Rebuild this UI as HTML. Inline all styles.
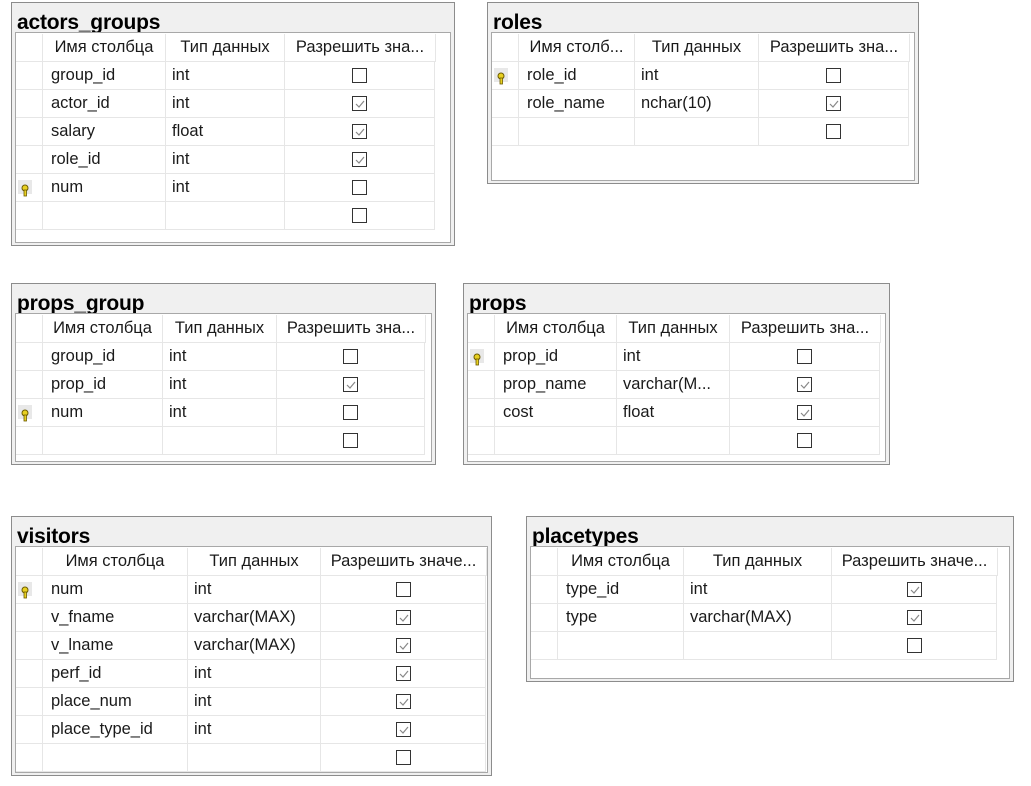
<!DOCTYPE html>
<html><head><meta charset="utf-8">
<style>
body{margin:0;width:1031px;height:786px;background:#fff;position:relative;overflow:hidden;font-family:"Liberation Sans","DejaVu Sans",sans-serif;}
.box{position:absolute;border:1px solid #8c8c8c;background:#f0f0f0;box-sizing:border-box;}
.title{position:absolute;left:5px;top:9px;font-weight:bold;font-size:21px;color:#000;line-height:22px;letter-spacing:-0.2px;}
.inner{position:absolute;background:#fff;border:1px solid #a8a8a8;box-sizing:border-box;overflow:hidden;}
.c{position:absolute;box-sizing:border-box;font-size:16.5px;color:#1a1a1a;line-height:27px;white-space:nowrap;overflow:hidden;border-right:1px solid #e6e6e6;border-bottom:1px solid #e6e6e6;}
.hd{text-align:center;}
.cb{position:absolute;width:15px;height:15px;border:1px solid #333;box-sizing:border-box;background:#fff;}
.key{position:absolute;width:14px;height:14px;background:#e8e8e8;}
</style></head><body>
<script>
function T(o){
  var b=document.createElement('div');b.className='box';
  b.style.left=o.x+'px';b.style.top=o.y+'px';b.style.width=(o.x2-o.x)+'px';b.style.height=(o.y2-o.y)+'px';
  document.body.appendChild(b);
  var t=document.createElement('div');t.className='title';t.textContent=o.name;b.appendChild(t);
  var ix=o.cols[0]-o.x-1, iy=o.hy-o.y-2;
  var inn=document.createElement('div');inn.className='inner';
  inn.style.left=ix+'px';inn.style.top=iy+'px';inn.style.width=(o.x2-o.x-ix-5)+'px';inn.style.height=(o.y2-o.y-iy-4)+'px';
  b.appendChild(inn);
  function cell(x1,x2,y,txt,cls){
    var c=document.createElement('div');c.className='c '+(cls||'');
    c.style.left=(x1-o.cols[0])+'px';c.style.top=(y-o.hy+1)+'px';c.style.width=(x2-x1)+'px';c.style.height='28px';
    if(txt!=null){c.textContent=txt;}
    inn.appendChild(c);return c;
  }
  var C=o.cols;
  cell(C[0],C[1],o.hy,'');
  cell(C[1],C[2],o.hy,o.h[0],'hd');
  cell(C[2],C[3],o.hy,o.h[1],'hd');
  cell(C[3],C[4]+1,o.hy,o.h[2],'hd');
  o.rows.forEach(function(r,i){
    var y=o.hy+28*(i+1);
    var k=cell(C[0],C[1],y,'');
    if(r[3]){var kk=document.createElement('div');kk.className='key';kk.style.left='2px';kk.style.top='6px';
      kk.innerHTML='<svg width="14" height="14"><circle cx="7" cy="4" r="3" fill="#e8d020" stroke="#6b5a00" stroke-width="1"/><rect x="6" y="6" width="2.5" height="6" fill="#e8d020" stroke="#6b5a00" stroke-width="0.8"/></svg>';k.appendChild(kk);}
    var a=cell(C[1],C[2],y,r[0]);a.style.paddingLeft='8px';
    var bb=cell(C[2],C[3],y,r[1]);bb.style.paddingLeft='6px';
    var n=cell(C[3],C[4],y,'');
    var cb=document.createElement('div');cb.className='cb';
    cb.style.left=Math.round((C[4]-C[3])/2-8)+'px';cb.style.top='6px';
    if(r[2]) cb.innerHTML='<svg width="13" height="13" style="position:absolute;left:0;top:0"><path d="M3 7 L6 10 L11 4" fill="none" stroke="#888" stroke-width="1.2"/></svg>';
    n.appendChild(cb);
  });
}
var H1=['Имя столбца','Тип данных','Разрешить зна...'];
var H2=['Имя столбца','Тип данных','Разрешить значе...'];
T({name:'actors_groups',x:11,y:2,x2:455,y2:246,cols:[15,42,165,284,434],hy:33,h:H1,rows:[
 ['group_id','int',0,0],['actor_id','int',1,0],['salary','float',1,0],['role_id','int',1,0],['num','int',0,1],['','',0,0]]});
T({name:'roles',x:487,y:2,x2:919,y2:184,cols:[491,518,634,758,908],hy:33,h:['Имя столб...','Тип данных','Разрешить зна...'],rows:[
 ['role_id','int',0,1],['role_name','nchar(10)',1,0],['','',0,0]]});
T({name:'props_group',x:11,y:283,x2:436,y2:465,cols:[15,42,162,276,424],hy:314,h:H1,rows:[
 ['group_id','int',0,0],['prop_id','int',1,0],['num','int',0,1],['','',0,0]]});
T({name:'props',x:463,y:283,x2:890,y2:465,cols:[467,494,616,729,879],hy:314,h:H1,rows:[
 ['prop_id','int',0,1],['prop_name','varchar(M...',1,0],['cost','float',1,0],['','',0,0]]});
T({name:'visitors',x:11,y:516,x2:492,y2:776,cols:[15,42,187,320,485],hy:547,h:H2,rows:[
 ['num','int',0,1],['v_fname','varchar(MAX)',1,0],['v_lname','varchar(MAX)',1,0],['perf_id','int',1,0],['place_num','int',1,0],['place_type_id','int',1,0],['','',0,0]]});
T({name:'placetypes',x:526,y:516,x2:1014,y2:682,cols:[530,557,683,831,996],hy:547,h:H2,rows:[
 ['type_id','int',1,0],['type','varchar(MAX)',1,0],['','',0,0]]});
</script>
</body></html>
